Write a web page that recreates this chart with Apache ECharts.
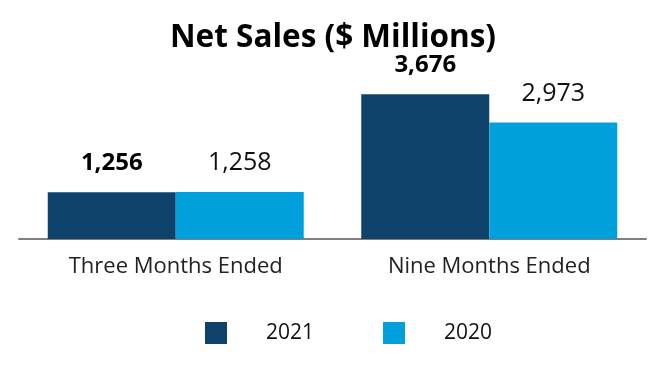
<!DOCTYPE html>
<html><head><meta charset="utf-8">
<script src="https://cdn.jsdelivr.net/npm/echarts@6/dist/echarts.min.js"></script>
<style>html,body{margin:0;padding:0;background:#fff}#c{width:666px;height:380px}</style>
</head><body><div id="c"></div>
<script>
const categories = ['Three Months Ended', 'Nine Months Ended'];
const seriesNames = ['2021', '2020'];
const values2021 = [1256, 3676];
const values2020 = [1258, 2973];
const titleText = 'Net Sales ($ Millions)';

const FONT = '"Open Sans", sans-serif';
const chart = echarts.init(document.getElementById('c'), null, {renderer: 'canvas'});
chart.setOption({
  animation: false,
  backgroundColor: '#fff',
  title: {
    text: titleText, left: 'center', top: 17,
    textStyle: {fontFamily: FONT, fontSize: 31.5, fontWeight: 'bold', color: '#000', lineHeight: 32}
  },
  legend: {
    data: seriesNames, left: 200, top: 317, itemWidth: 22, itemHeight: 22, itemGap: 69,
    icon: 'rect',
    textStyle: {fontFamily: FONT, fontSize: 21, color: '#111', padding: [0, 0, 0, 34]}
  },
  grid: {left: 19, right: 20, top: 81, bottom: 141},
  xAxis: {
    type: 'category', data: categories,
    axisLine: {lineStyle: {color: '#7f7f7f', width: 2}},
    axisTick: {show: false},
    axisLabel: {fontFamily: FONT, fontSize: 22, color: '#222', margin: 17, lineHeight: 22}
  },
  yAxis: {type: 'value', min: 100, max: 4000, show: false, splitLine: {show: false}},
  series: [
    {
      name: seriesNames[0], type: 'bar', data: values2021, barWidth: 128, barGap: '0%',
      itemStyle: {color: '#0f426b'},
      label: {show: true, position: 'top', distance: 17, fontFamily: FONT, fontSize: 24, fontWeight: 'bold', color: '#000', lineHeight: 24,
        formatter: p => p.value.toLocaleString('en-US')}
    },
    {
      name: seriesNames[1], type: 'bar', data: values2020, barWidth: 128, barGap: '0%',
      itemStyle: {color: '#00a0dc'},
      label: {show: true, position: 'top', distance: 17, fontFamily: FONT, fontSize: 25, color: '#111', lineHeight: 24,
        formatter: p => p.value.toLocaleString('en-US')}
    }
  ]
});
</script></body></html>
